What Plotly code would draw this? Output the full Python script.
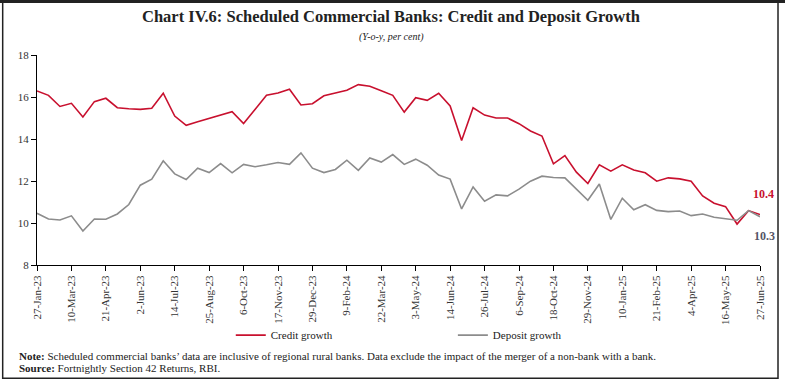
import plotly.graph_objects as go
import pandas as pd

dates = pd.date_range("2023-01-27", periods=64, freq="14D")

credit_growth = [
    16.29, 16.08, 15.55, 15.70, 15.05, 15.78, 15.94, 15.49, 15.44, 15.41,
    15.46, 16.18, 15.09, 14.65, 14.82, 14.98, 15.13, 15.30, 14.74, 15.41,
    16.08, 16.19, 16.37, 15.62, 15.68, 16.06, 16.19, 16.32, 16.59, 16.51,
    16.30, 16.08, 15.28, 15.97, 15.84, 16.18, 15.57, 13.93, 15.49, 15.14,
    15.00, 15.00, 14.73, 14.38, 14.14, 12.82, 13.21, 12.42, 11.88, 12.77,
    12.47, 12.77, 12.52, 12.39, 11.99, 12.15, 12.10, 11.99, 11.29, 10.94,
    10.78, 9.95, 10.59, 10.40,
]
deposit_growth = [
    10.46, 10.19, 10.14, 10.34, 9.62, 10.19, 10.18, 10.43, 10.88, 11.80,
    12.09, 12.96, 12.34, 12.07, 12.61, 12.40, 12.83, 12.39, 12.79, 12.68,
    12.77, 12.88, 12.79, 13.34, 12.61, 12.40, 12.55, 12.99, 12.51, 13.10,
    12.90, 13.26, 12.79, 13.04, 12.75, 12.28, 12.09, 10.67, 11.72, 11.04,
    11.34, 11.29, 11.61, 11.99, 12.23, 12.17, 12.15, 11.62, 11.08, 11.86,
    10.17, 11.18, 10.63, 10.87, 10.60, 10.54, 10.57, 10.35, 10.43, 10.27,
    10.21, 10.13, 10.59, 10.30,
]
tick_labels = [
    "27-Jan-23", "10-Mar-23", "21-Apr-23", "2-Jun-23", "14-Jul-23", "25-Aug-23",
    "6-Oct-23", "17-Nov-23", "29-Dec-23", "9-Feb-24", "22-Mar-24", "3-May-24",
    "14-Jun-24", "26-Jul-24", "6-Sep-24", "18-Oct-24", "29-Nov-24", "10-Jan-25",
    "21-Feb-25", "4-Apr-25", "16-May-25", "27-Jun-25",
]
tick_vals = [dates[i] for i in range(0, 64, 3)]
y_ticks = [8, 10, 12, 14, 16, 18]

RED = "#C8102E"
GREY = "#8C8C8C"
FONT = "Liberation Serif"

W, H = 785, 384
L, R = 37.3, 760.0
T, B = 55.4, 265.0


def px(x):
    return (x - L) / (R - L)


def py(y):
    return (B - y) / (B - T)


fig = go.Figure()
fig.add_trace(go.Scatter(x=dates, y=credit_growth, mode="lines", name="Credit growth",
                         line=dict(color=RED, width=1.6), legend="legend"))
fig.add_trace(go.Scatter(x=dates, y=deposit_growth, mode="lines", name="Deposit growth",
                         line=dict(color=GREY, width=1.6), legend="legend2"))

fig.update_layout(
    width=W, height=H,
    margin=dict(l=L, r=W - R, t=T, b=H - B, pad=0),
    paper_bgcolor="white", plot_bgcolor="white",
    font=dict(family=FONT, size=10, color="#333333"),
    showlegend=True,
    legend=dict(orientation="h", x=px(231), y=py(335), xanchor="left", yanchor="middle",
                font=dict(family=FONT, size=11, color="#222222"), bgcolor="rgba(0,0,0,0)"),
    legend2=dict(orientation="h", x=px(453), y=py(335), xanchor="left", yanchor="middle",
                 font=dict(family=FONT, size=11, color="#222222"), bgcolor="rgba(0,0,0,0)"),
    xaxis=dict(
        range=[dates[0], dates[-1]], tickvals=tick_vals, ticktext=tick_labels,
        tickangle=-90, ticks="outside", ticklen=5, tickcolor="#000", showline=True,
        linecolor="#000", linewidth=1, showgrid=False, zeroline=False,
        tickfont=dict(family=FONT, size=11, color="#333333"),
    ),
    yaxis=dict(
        range=[8, 18], tickvals=y_ticks, ticks="outside", ticklen=5, tickcolor="#000",
        showline=True, linecolor="#000", linewidth=1, showgrid=False, zeroline=False,
        tickfont=dict(family=FONT, size=11, color="#333333"),
    ),
)

annotations = [
    dict(text="<b>Chart IV.6: Scheduled Commercial Banks: Credit and Deposit Growth</b>",
         xref="paper", yref="paper", x=px(391), y=py(17), xanchor="center", yanchor="middle",
         showarrow=False, font=dict(family=FONT, size=16.5, color="#222222")),
    dict(text="<i>(Y-o-y, per cent)</i>",
         xref="paper", yref="paper", x=px(392), y=py(37), xanchor="center", yanchor="middle",
         showarrow=False, font=dict(family=FONT, size=10, color="#222222")),
    dict(text="<b>%.1f</b>" % credit_growth[-1], x=dates[-1], y=credit_growth[-1],
         xref="x", yref="y", showarrow=False, xshift=3, yshift=21,
         font=dict(family=FONT, size=12, color=RED)),
    dict(text="<b>%.1f</b>" % deposit_growth[-1], x=dates[-1], y=deposit_growth[-1],
         xref="x", yref="y", showarrow=False, xshift=4, yshift=-19,
         font=dict(family=FONT, size=12, color="#555566")),
    dict(text="<b>Note:</b> Scheduled commercial banks\u2019 data are inclusive of regional rural banks. "
              "Data exclude the impact of the merger of a non-bank with a bank.",
         xref="paper", yref="paper", x=px(17), y=py(356), xanchor="left", yanchor="middle",
         showarrow=False, font=dict(family=FONT, size=11, color="#222222")),
    dict(text="<b>Source:</b> Fortnightly Section 42 Returns, RBI.",
         xref="paper", yref="paper", x=px(17), y=py(368), xanchor="left", yanchor="middle",
         showarrow=False, font=dict(family=FONT, size=11, color="#222222")),
]
fig.update_layout(annotations=annotations)

# outer frame
fig.add_shape(type="rect", xref="paper", yref="paper",
              x0=px(3), x1=px(778), y0=py(378), y1=py(2.5),
              line=dict(color="#222222", width=1.5), fillcolor="rgba(0,0,0,0)")
fig.add_shape(type="line", xref="paper", yref="paper",
              x0=px(0), x1=px(785), y0=py(2), y1=py(2),
              line=dict(color="#222222", width=3))

fig.write_html("out.html",
               config={"displayModeBar": False},
               post_script="document.body.style.margin='0';document.body.style.overflow='hidden';")
